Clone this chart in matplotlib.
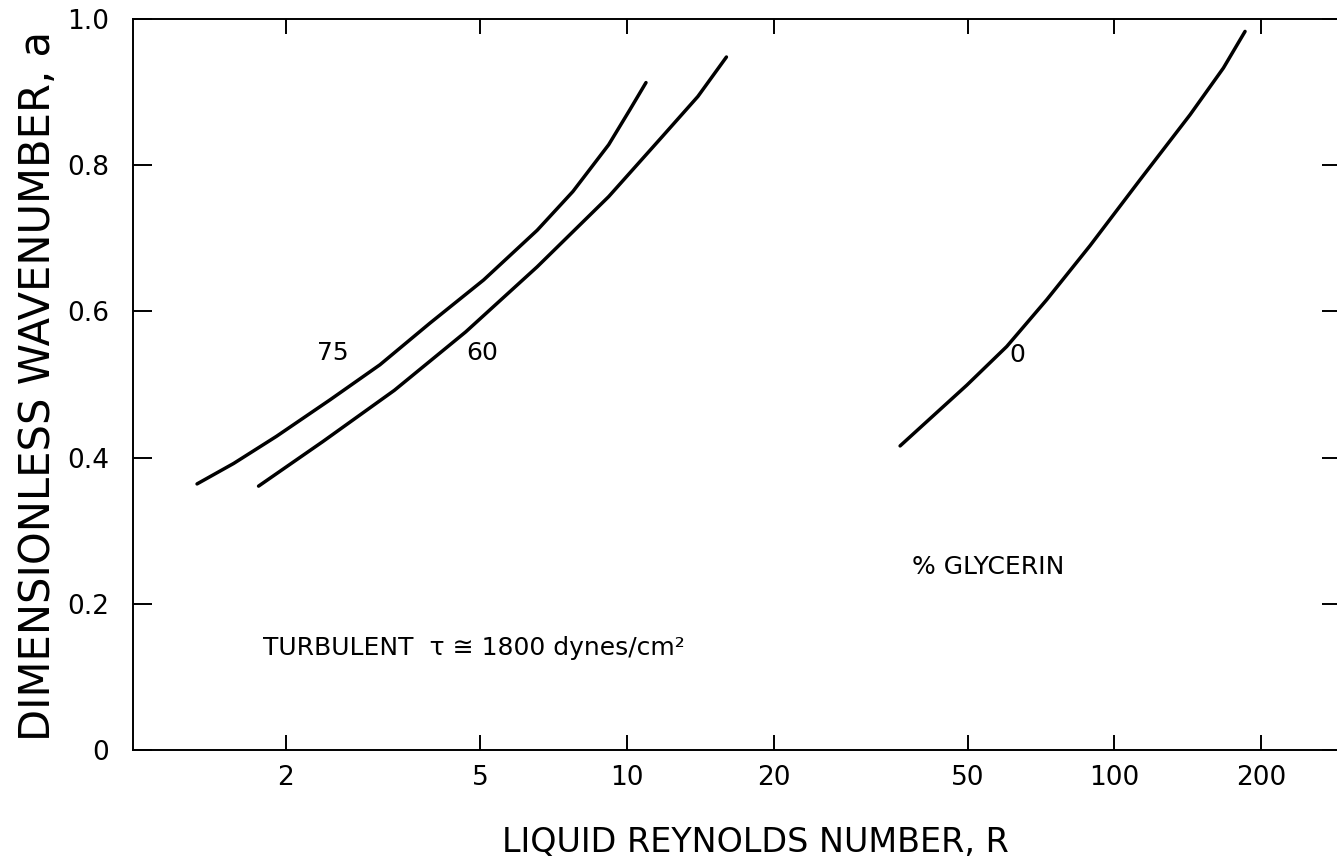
import numpy as np
import matplotlib
matplotlib.use("Agg")
import matplotlib.pyplot as plt
from matplotlib.ticker import FixedLocator, FixedFormatter, NullLocator

plt.rcParams['font.family'] = ['DejaVu Sans']

# curves: liquid Reynolds number R vs wavenumber a
r_75 = [1.314, 1.562, 1.911, 2.462, 3.117, 3.948, 5.086, 6.550, 7.753, 9.18, 10.15, 10.95]
a_75 = [0.364, 0.392, 0.429, 0.479, 0.527, 0.584, 0.643, 0.711, 0.764, 0.828, 0.876, 0.913]

r_60 = [1.757, 2.381, 3.336, 4.674, 6.550, 9.18, 11.82, 13.99, 16.01]
a_60 = [0.361, 0.422, 0.492, 0.572, 0.661, 0.757, 0.839, 0.894, 0.948]

r_0 = [36.36, 49.81, 60.17, 72.67, 89.18, 112.9, 143.0, 167.4, 185.4]
a_0 = [0.416, 0.499, 0.552, 0.616, 0.690, 0.780, 0.869, 0.933, 0.983]

x_ticks = [2, 5, 10, 20, 50, 100, 200]
x_labels = ["2", "5", "10", "20", "50", "100", "200"]
y_ticks = [0, 0.2, 0.4, 0.6, 0.8, 1.0]
y_labels = ["0", "0.2", "0.4", "0.6", "0.8", "1.0"]

fig = plt.figure(figsize=(13.37, 8.64), dpi=100)
ax = fig.add_axes([133 / 1337, 1 - 750 / 864, (1341 - 133) / 1337, (750 - 19) / 864])

for r, a in [(r_75, a_75), (r_60, a_60), (r_0, a_0)]:
    ax.plot(r, a, color="black", lw=2.5, solid_capstyle="round",
            solid_joinstyle="round")

ax.set_xscale("log")
ax.set_xlim(0.971, 291.7)
ax.set_ylim(0, 1.0)

ax.xaxis.set_major_locator(FixedLocator(x_ticks))
ax.xaxis.set_major_formatter(FixedFormatter(x_labels))
ax.xaxis.set_minor_locator(NullLocator())
ax.yaxis.set_major_locator(FixedLocator(y_ticks))
ax.yaxis.set_major_formatter(FixedFormatter(y_labels))

ax.tick_params(axis="x", which="major", direction="in", top=True, bottom=True,
               length=11, width=1.4, pad=11, labelsize=19)
ax.tick_params(axis="y", which="major", direction="in", left=True, right=True,
               length=14, width=1.4, pad=17, labelsize=19)

for s in ["left", "bottom", "top"]:
    ax.spines[s].set_linewidth(1.4)
ax.spines["right"].set_visible(False)

# curve labels
ax.text(2.50, 0.543, "75", fontsize=18, ha="center", va="center")
ax.text(5.04, 0.543, "60", fontsize=18, ha="center", va="center")
ax.text(63.2, 0.540, "0", fontsize=18, ha="center", va="center")
ax.text(38.5, 0.250, "% GLYCERIN", fontsize=18, ha="left", va="center")
ax.text(1.79, 0.140, "TURBULENT  \u03c4 \u2245 1800 dynes/cm\u00b2",
        fontsize=18, ha="left", va="center")

fig.text(755 / 1337, 1 - 842 / 864, "LIQUID REYNOLDS NUMBER, R",
         fontsize=24, ha="center", va="center")
fig.text(38 / 1337, 1 - 386 / 864, "DIMENSIONLESS WAVENUMBER, a",
         fontsize=30, ha="center", va="center", rotation=90)

fig.savefig("out.png", dpi=100)
